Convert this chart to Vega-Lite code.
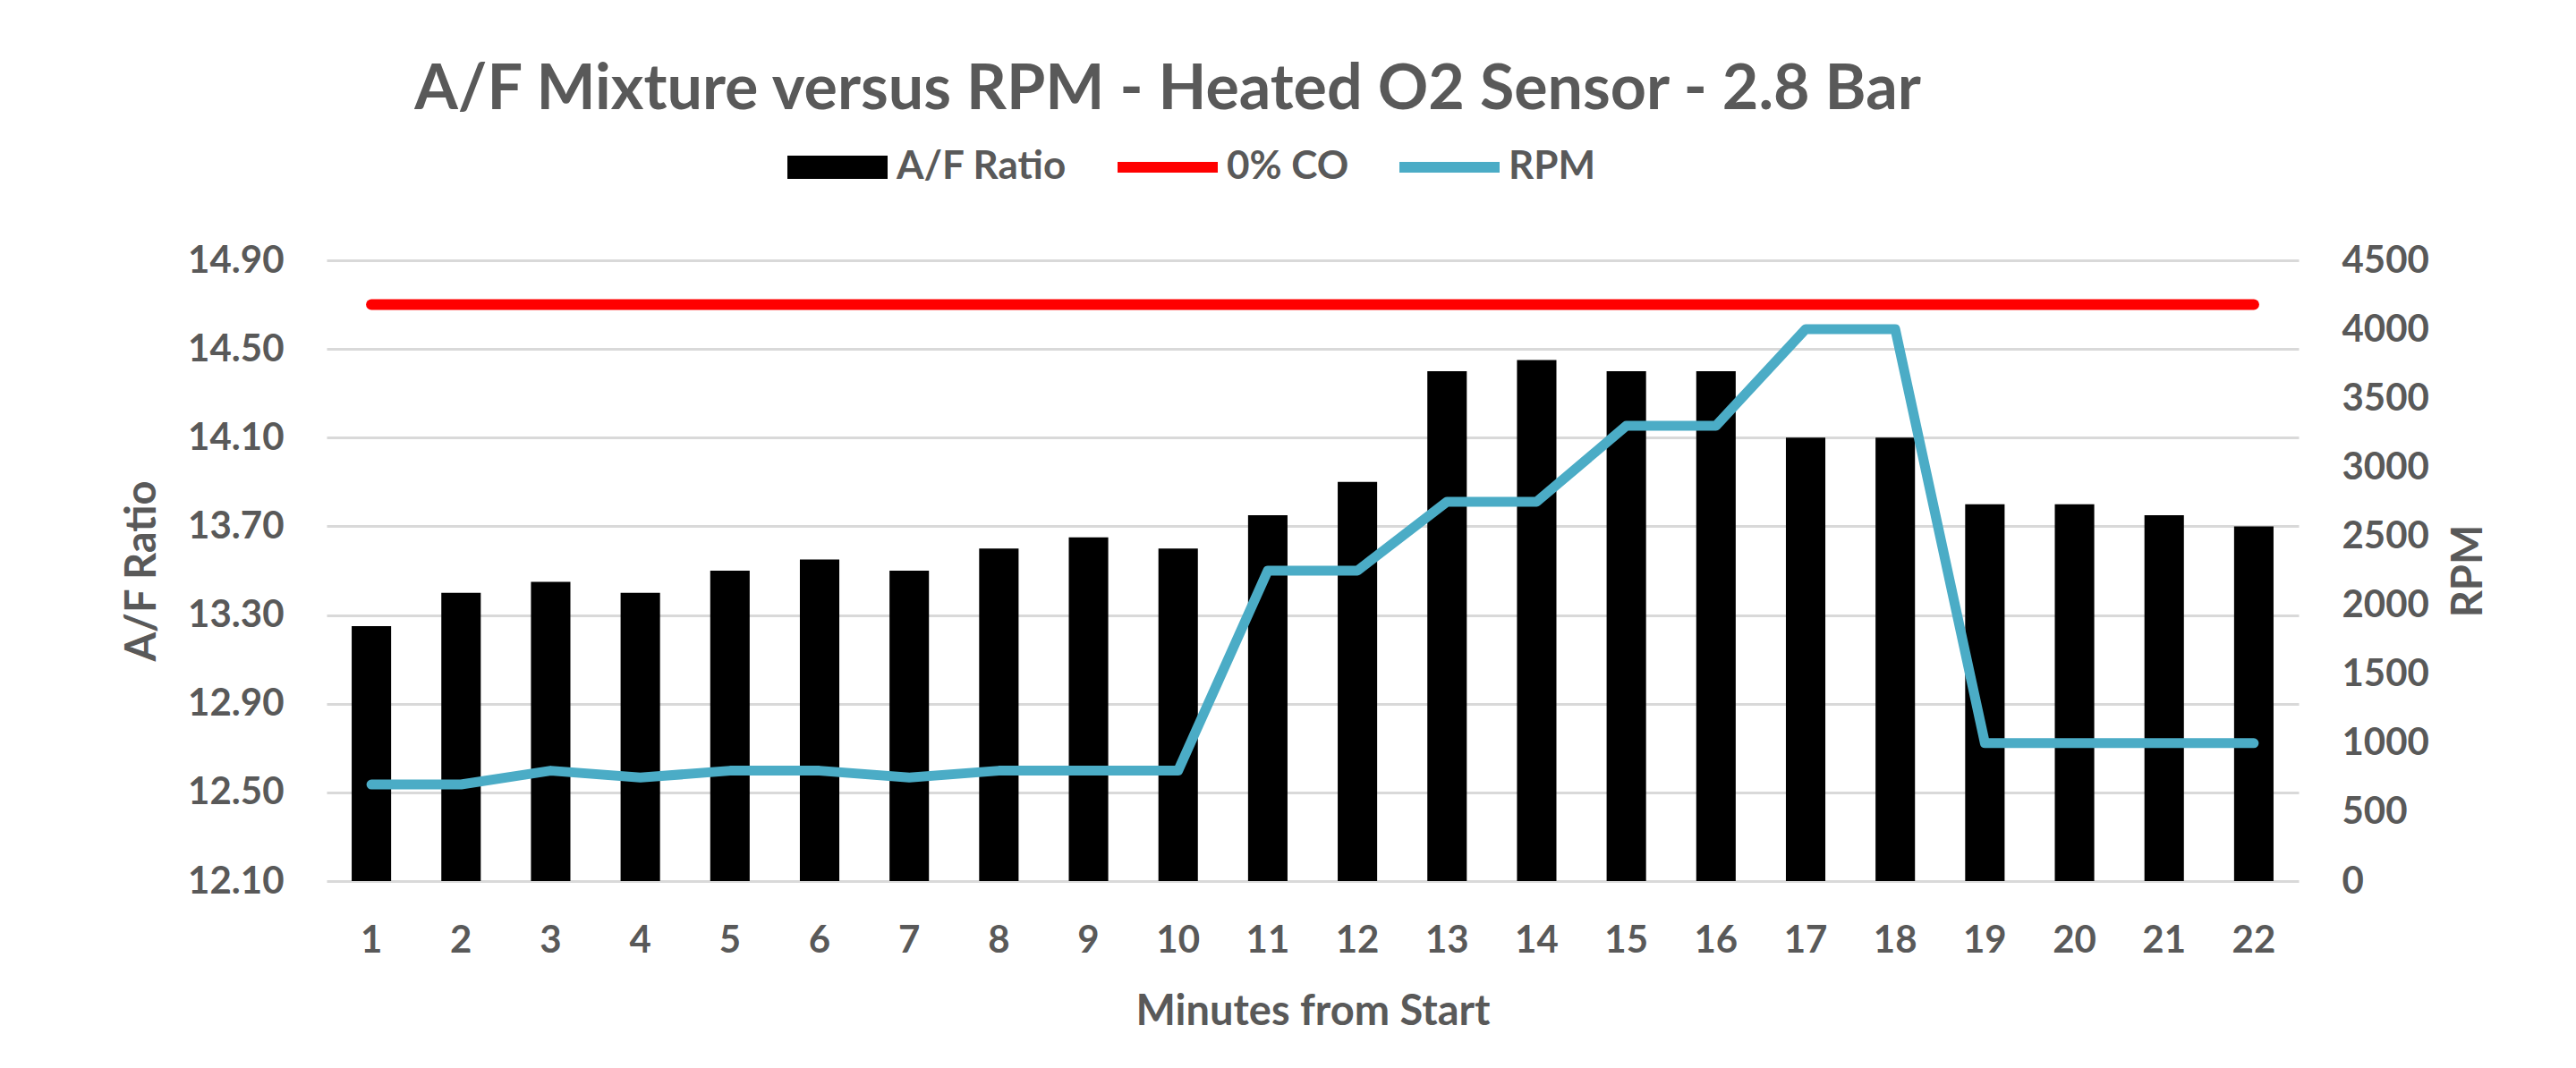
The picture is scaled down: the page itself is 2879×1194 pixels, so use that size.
{
  "$schema": "https://vega.github.io/schema/vega-lite/v6.json",
  "width": 2204,
  "height": 694,
  "autosize": "none",
  "padding": {"left": 365, "top": 291, "right": 310, "bottom": 209},
  "background": "white",
  "title": {
    "text": "A/F Mixture versus RPM - Heated O2 Sensor - 2.8 Bar",
    "font": "Lato",
    "fontSize": 70,
    "fontWeight": "bold",
    "color": "#595959",
    "anchor": "middle",
    "frame": "group",
    "dx": -162,
    "offset": -6
  },
  "data": {
    "values": [
      {"minute": 1, "ratio": 13.25, "co": 14.7, "rpm": 700},
      {"minute": 2, "ratio": 13.40, "co": 14.7, "rpm": 700},
      {"minute": 3, "ratio": 13.45, "co": 14.7, "rpm": 800},
      {"minute": 4, "ratio": 13.40, "co": 14.7, "rpm": 750},
      {"minute": 5, "ratio": 13.50, "co": 14.7, "rpm": 800},
      {"minute": 6, "ratio": 13.55, "co": 14.7, "rpm": 800},
      {"minute": 7, "ratio": 13.50, "co": 14.7, "rpm": 750},
      {"minute": 8, "ratio": 13.60, "co": 14.7, "rpm": 800},
      {"minute": 9, "ratio": 13.65, "co": 14.7, "rpm": 800},
      {"minute": 10, "ratio": 13.60, "co": 14.7, "rpm": 800},
      {"minute": 11, "ratio": 13.75, "co": 14.7, "rpm": 2250},
      {"minute": 12, "ratio": 13.90, "co": 14.7, "rpm": 2250},
      {"minute": 13, "ratio": 14.40, "co": 14.7, "rpm": 2750},
      {"minute": 14, "ratio": 14.45, "co": 14.7, "rpm": 2750},
      {"minute": 15, "ratio": 14.40, "co": 14.7, "rpm": 3300},
      {"minute": 16, "ratio": 14.40, "co": 14.7, "rpm": 3300},
      {"minute": 17, "ratio": 14.10, "co": 14.7, "rpm": 4000},
      {"minute": 18, "ratio": 14.10, "co": 14.7, "rpm": 4000},
      {"minute": 19, "ratio": 13.80, "co": 14.7, "rpm": 1000},
      {"minute": 20, "ratio": 13.80, "co": 14.7, "rpm": 1000},
      {"minute": 21, "ratio": 13.75, "co": 14.7, "rpm": 1000},
      {"minute": 22, "ratio": 13.70, "co": 14.7, "rpm": 1000}
    ]
  },
  "encoding": {
    "x": {
      "field": "minute",
      "type": "ordinal",
      "title": "Minutes from Start",
      "scale": {"paddingInner": 0.56, "paddingOuter": 0.28},
      "axis": {"labelAngle": 0, "labelPadding": 46, "titlePadding": 36, "grid": false}
    }
  },
  "layer": [
    {
      "layer": [
        {
          "mark": {"type": "bar", "color": "black"},
          "encoding": {
            "y": {
              "field": "ratio",
              "type": "quantitative",
              "title": "A/F Ratio",
              "scale": {"domain": [12.1, 14.9], "zero": false, "nice": false},
              "axis": {
                "values": [12.1, 12.5, 12.9, 13.3, 13.7, 14.1, 14.5, 14.9],
                "format": ".2f",
                "grid": true,
                "labelPadding": 48,
                "titlePadding": 26
              }
            },
            "y2": {"datum": 12.1},
            "color": {
              "datum": "A/F Ratio",
              "type": "nominal",
              "scale": {
                "domain": ["A/F Ratio", "0% CO", "RPM"],
                "range": ["#000000", "#ff0000", "#4bacc6"]
              },
              "legend": {
                "title": null,
                "orient": "none",
                "direction": "horizontal",
                "legendX": 515,
                "legendY": -160,
                "padding": 0,
                "symbolSize": 12544,
                "labelOffset": 10,
                "labelLimit": 500,
                "columnPadding": 56,
                "labelFont": "Lato",
                "labelFontSize": 44,
                "labelFontWeight": "bold",
                "labelColor": "#595959",
                "encode": {
                  "symbols": {
                    "update": {
                      "shape": {"signal": "datum.value === 'A/F Ratio' ? 'M-1,-0.232H1V0.232H-1Z' : 'M-1,-0.105H1V0.105H-1Z'"},
                      "fill": {"signal": "scale('color', datum.value)"},
                      "strokeWidth": {"value": 0},
                      "opacity": {"value": 1}
                    }
                  }
                }
              }
            }
          }
        },
        {
          "mark": {"type": "line", "color": "#ff0000", "strokeWidth": 12, "strokeCap": "round"},
          "encoding": {
            "y": {"field": "co", "type": "quantitative"}
          }
        }
      ]
    },
    {
      "mark": {"type": "line", "color": "#4bacc6", "strokeWidth": 11, "strokeCap": "round", "strokeJoin": "round"},
      "encoding": {
        "y": {
          "field": "rpm",
          "type": "quantitative",
          "title": "RPM",
          "scale": {"domain": [0, 4500], "nice": false},
          "axis": {
            "orient": "right",
            "values": [0, 500, 1000, 1500, 2000, 2500, 3000, 3500, 4000, 4500],
            "format": "d",
            "grid": false,
            "labelPadding": 48,
            "titlePadding": 22,
            "titleAngle": -90,
            "titleBaseline": "top"
          }
        }
      }
    }
  ],
  "resolve": {"scale": {"y": "independent"}},
  "config": {
    "font": "Lato",
    "view": {"stroke": null},
    "axis": {
      "domain": false,
      "ticks": false,
      "tickSize": 0,
      "labelFont": "Lato",
      "labelFontSize": 42,
      "labelFontWeight": "bold",
      "labelColor": "#595959",
      "titleFont": "Lato",
      "titleFontSize": 47,
      "titleFontWeight": "bold",
      "titleColor": "#595959",
      "gridColor": "#d9d9d9",
      "gridWidth": 3
    }
  }
}
